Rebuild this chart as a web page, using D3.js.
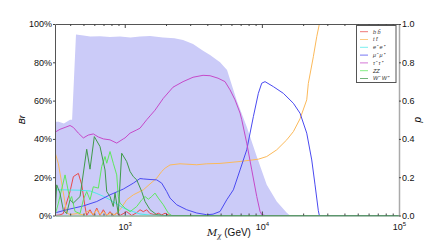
<!DOCTYPE html>
<html>
<head>
<meta charset="utf-8">
<script src="https://cdn.jsdelivr.net/npm/d3@7"></script>
<style>
  body { margin: 0; background: #fff; }
  text { font-family: "Liberation Sans", Arial, sans-serif; }
</style>
</head>
<body>
<div id="chart"></div>
<script>
// mass range (GeV) and axis ticks
const massRange = [310, 1e5];
const xMajorTicks = [1e3, 1e4, 1e5];
const brTicks = [0, 20, 40, 60, 80, 100];
const pTicks = [0, 0.2, 0.4, 0.6, 0.8, 1.0];

// shaded area, right axis (p)
const pShade = [[310,0.49],[330,0.49],[360,0.48],[399,0.50],[413,0.50],[441,0.945],[500,0.94],[560,0.935],
  [660,0.936],[780,0.932],[923,0.935],[1100,0.93],[1292,0.935],[1529,0.937],[1900,0.93],[2300,0.925],
  [2661,0.917],[3148,0.896],[3724,0.86],[4188,0.838],[4954,0.80],[5572,0.76],[6557,0.60],[7757,0.464],
  [9176,0.308],[10851,0.16],[12836,0.073],[15185,0.014],[16050,0],[100000,0]];

// branching ratios, left axis (%)
const brBB = [[310,0],[337,0.3],[356,1],[399,12.5],[422,20.3],[459,22],[486,16],[513,4.7],[528,0],[558,3],
  [590,0],[625,3.9],[660,0],[698,3],[739,0],[781,2],[825,0],[874,1.2],[923,0],[1033,2],[1124,0],[1223,1.5],
  [1292,3],[1366,2],[1446,3],[1529,1],[1662,0.4],[1757,1.2],[1860,0.3],[1967,1.2],[2079,0.3],[2200,0],[100000,0]];
const brTT = [[310,33],[319,30],[328,27],[347,17],[367,6.5],[377,1.3],[399,0.5],[450,1],[499,0.3],[542,2.5],
  [590,0.5],[625,3],[660,0.5],[700,2],[740,0.3],[781,1],[850,0.5],[923,3],[1033,8.2],[1155,10.8],[1366,13.4],
  [1529,16.5],[1711,19.5],[1860,23],[1967,24.7],[2139,26.4],[2529,27],[3349,26.5],[3963,27],[4954,27.2],
  [6932,28.2],[9426,29.4],[10851,30.8],[12836,34.3],[15185,39.5],[16970,43.8],[18980,50.5],[21240,60.4],
  [21820,69],[23730,82.9],[25130,93.4],[26250,100],[27500,108]];
const brEE = [[310,13.4],[360,13.4],[472,13.2],[560,12.8],[625,11.5],[700,10],[781,8.2],[923,5],[1004,3.5],
  [1155,2],[1292,0.8],[1529,0.2],[2000,0],[100000,0]];
const brMuMu = [[310,1],[319,1.6],[377,3],[499,5],[625,7.3],[781,10.8],[976,13.8],[1155,16.9],[1292,19.3],
  [1366,19.1],[1529,18.8],[1711,18.6],[1860,16.9],[2023,12.5],[2139,9.1],[2393,5.6],[2831,3],[3349,1.3],
  [3963,0.4],[4405,0.7],[4954,2.1],[5544,8.2],[6194,13.4],[6932,23.8],[7757,34.3],[8667,51.6],[9426,63.8],
  [9977,69.1],[10546,69.9],[12123,67.3],[14340,63.8],[16970,58.6],[18980,53.4],[21240,43],[23100,29],
  [24420,16],[25810,2.5],[26250,0],[100000,0]];
const brTauTau = [[310,43.5],[337,45],[367,46],[399,47],[422,46],[459,43],[499,40.5],[542,42],[590,42.6],
  [642,41],[698,40],[781,39.5],[874,37.8],[976,40],[1004,40.5],[1093,43],[1223,44.7],[1292,45.6],[1446,50],
  [1529,52],[1662,55],[1911,61.2],[2249,67],[2661,69.9],[3148,72.2],[3724,73.2],[4188,73],[4790,71.7],
  [5388,69.9],[5860,65.6],[6373,60.4],[6932,53.5],[7133,50],[7757,37.8],[8437,23.8],[9176,9.9],[9698,2.1],
  [9977,0.5],[10546,0],[100000,0]];
const brZZ = [[310,0],[328,6.5],[367,21.2],[377,17],[399,8.2],[410,9.9],[434,2.1],[472,1],[499,8.2],[528,12.5],
  [558,8.2],[590,15],[642,14.3],[679,25.6],[718,30.8],[739,27.3],[781,33.4],[825,27.3],[874,21.2],[897,10],
  [923,6.5],[1004,3.9],[1093,2],[1223,4.7],[1330,8.2],[1406,9.9],[1486,8.5],[1573,9.9],[1662,11.7],[1757,9.1],
  [1911,5.6],[2079,1.2],[2200,0],[100000,0]];
const brWW = [[310,0],[319,16],[337,11.7],[356,3],[377,1],[399,8.2],[422,6.5],[472,9.9],[528,34.6],[558,24.2],
  [600,41.2],[660,36],[718,23.8],[739,12.5],[781,9.9],[825,4.7],[849,11.7],[897,1],[950,32.5],[1033,28.2],
  [1093,23],[1155,20.3],[1223,18.6],[1330,12.5],[1406,7.3],[1529,3],[1711,0.4],[1911,0],[100000,0]];

const seriesNames = ["b b\u0304", "t t\u0304", "e\u207B e\u207A", "\u03BC\u207B \u03BC\u207A", "\u03C4\u207B \u03C4\u207A", "ZZ", "W\u207B W\u207A"];
const seriesData = [brBB, brTT, brEE, brMuMu, brTauTau, brZZ, brWW];
const seriesColors = ["#e84a4a", "#fbb95a", "#4de8e8", "#4a4af0", "#c54ac8", "#5ee85e", "#3f9a4a"];

const W = 443, H = 240;
const plotL = 55, plotR = 399, plotT = 24, plotB = 215.5;

const svg = d3.select("#chart").append("svg")
  .attr("width", W).attr("height", H);

const x = d3.scaleLog().domain(massRange).range([plotL, plotR]);
const yBr = d3.scaleLinear().domain([0, 100]).range([plotB, plotT]);
const yP = d3.scaleLinear().domain([0, 1]).range([plotB, plotT]);

svg.append("clipPath").attr("id", "plotclip")
  .append("rect").attr("x", plotL).attr("y", plotT).attr("width", plotR - plotL).attr("height", plotB - plotT);

const plot = svg.append("g").attr("clip-path", "url(#plotclip)");

// shaded p region
plot.append("path")
  .datum(pShade)
  .attr("fill", "#cbcbf8")
  .attr("d", d3.area().x(d => x(d[0])).y0(plotB).y1(d => yP(d[1])));

const line = d3.line().x(d => x(d[0])).y(d => yBr(d[1]));
seriesData.forEach((s, i) => {
  plot.append("path")
    .datum(s)
    .attr("fill", "none")
    .attr("stroke", seriesColors[i])
    .attr("stroke-width", 1)
    .attr("d", line);
});

// axes
const minorTicks = x.ticks().filter(t => xMajorTicks.indexOf(t) < 0);

function styleAxis(g, col) {
  g.selectAll(".domain").attr("stroke", col);
  g.selectAll(".tick line").attr("stroke", "#444");
  g.attr("font-family", "Liberation Sans").attr("font-size", 9);
  g.selectAll("text").attr("fill", "#111");
}

// top frame with inward ticks
svg.append("g").attr("transform", `translate(0,${plotT})`)
  .call(d3.axisTop(x).tickValues(minorTicks).tickSize(-2).tickSizeOuter(0).tickFormat(""))
  .call(g => styleAxis(g, "#555"));
svg.append("g").attr("transform", `translate(0,${plotT})`)
  .call(d3.axisTop(x).tickValues(xMajorTicks).tickSize(-4).tickSizeOuter(0).tickFormat(""))
  .call(g => g.select(".domain").remove())
  .call(g => g.selectAll(".tick line").attr("stroke", "#444"));

// bottom axis
svg.append("g").attr("transform", `translate(0,${plotB})`)
  .call(d3.axisBottom(x).tickValues(minorTicks).tickSize(-2).tickSizeOuter(0).tickFormat(""))
  .call(g => styleAxis(g, "#5a8a6a"));
const xMajor = svg.append("g").attr("transform", `translate(0,${plotB})`)
  .call(d3.axisBottom(x).tickValues(xMajorTicks).tickSize(-4).tickSizeOuter(0).tickPadding(8).tickFormat(""))
  .call(g => g.select(".domain").remove())
  .call(g => g.selectAll(".tick line").attr("stroke", "#444"));
xMajor.selectAll(".tick text")
  .attr("font-family", "Liberation Sans").attr("font-size", 9).attr("fill", "#111")
  .each(function(d) {
    const t = d3.select(this);
    t.append("tspan").text("10");
    t.append("tspan").attr("font-size", 6).attr("dy", -4).text(Math.round(Math.log10(d)));
  });

// left axis (Br)
svg.append("g").attr("transform", `translate(${plotL},0)`)
  .call(d3.axisLeft(yBr).tickValues(brTicks).tickSize(2).tickPadding(1).tickSizeOuter(0).tickFormat(d => d + "%"))
  .call(g => styleAxis(g, "#555"));

// right axis (p)
svg.append("g").attr("transform", `translate(${plotR},0)`)
  .call(d3.axisRight(yP).tickValues(pTicks).tickSize(2).tickPadding(1).tickSizeOuter(0).tickFormat(d3.format(".1f")))
  .call(g => styleAxis(g, "#aaa"))
  .call(g => g.select(".domain").attr("stroke-width", 1.5));

// axis titles
svg.append("text")
  .attr("transform", `translate(25,${(plotT + plotB) / 2}) rotate(-90)`)
  .attr("text-anchor", "middle")
  .attr("font-family", "DejaVu Serif").attr("font-style", "italic").attr("font-size", 9)
  .text("Br");
svg.append("text")
  .attr("transform", `translate(421,${(plotT + plotB) / 2}) rotate(-90)`)
  .attr("text-anchor", "middle")
  .attr("font-family", "DejaVu Serif").attr("font-style", "italic").attr("font-size", 10)
  .text("p");
const xt = svg.append("text")
  .attr("x", 207).attr("y", 236)
  .attr("font-size", 10).attr("fill", "#111");
xt.append("tspan").attr("font-family", "DejaVu Serif").attr("font-style", "italic").text("M");
xt.append("tspan").attr("font-family", "DejaVu Serif").attr("font-style", "italic")
  .attr("font-size", 7).attr("dy", 2).text("\u03C7");
xt.append("tspan").attr("dy", -2).text(" (GeV)");

// legend
const lg = svg.append("g");
lg.append("rect")
  .attr("x", 356.5).attr("y", 25.5).attr("width", 39.5).attr("height", 57)
  .attr("fill", "#fff").attr("stroke", "#555").attr("stroke-width", 1);
seriesNames.forEach((name, i) => {
  const yy = 31.7 + i * 7.8;
  lg.append("line")
    .attr("x1", 360).attr("x2", 368).attr("y1", yy).attr("y2", yy)
    .attr("stroke", seriesColors[i]).attr("stroke-opacity", 0.75).attr("stroke-width", 1);
  lg.append("text")
    .attr("x", 373).attr("y", yy).attr("dy", "0.35em")
    .attr("font-family", "DejaVu Serif").attr("font-style", "italic").attr("font-size", 5.5)
    .attr("fill", "#333")
    .text(name);
});
</script>
</body>
</html>
